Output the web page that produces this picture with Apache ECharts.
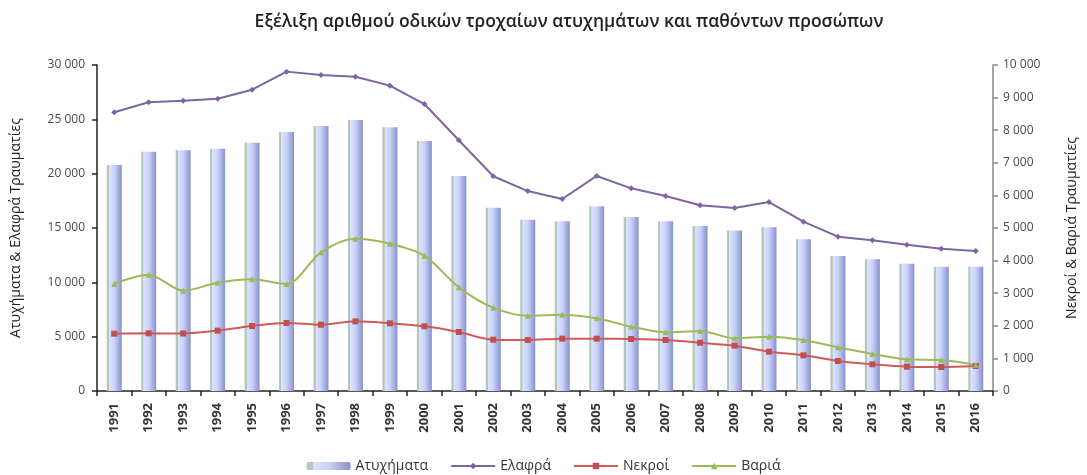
<!DOCTYPE html>
<html>
<head>
<meta charset="utf-8">
<script src="https://cdn.jsdelivr.net/npm/echarts@6/dist/echarts.min.js"></script>
<style>
  html, body { margin: 0; padding: 0; background: #fff; }
  #chart { width: 1087px; height: 475px; }
</style>
</head>
<body>
<div id="chart"></div>
<script>
// κατηγορίες (έτη)
var years = ["1991","1992","1993","1994","1995","1996","1997","1998","1999","2000","2001","2002","2003",
  "2004","2005","2006","2007","2008","2009","2010","2011","2012","2013","2014","2015","2016"];
// αριστερός άξονας
var atyximata = [20800,22020,22150,22300,22850,23830,24390,24940,24270,23010,19790,16870,15770,
  15610,17000,16010,15610,15180,14780,15060,13960,12420,12120,11710,11440,11440];
var elafra = [25650,26570,26720,26900,27730,29390,29080,28920,28100,26410,23070,19760,18400,
  17670,19790,18650,17940,17090,16840,17390,15580,14200,13870,13460,13100,12880];
// δεξιός άξονας
var nekroi = [1758,1770,1765,1850,1994,2086,2034,2137,2076,1984,1810,1574,1564,
  1605,1605,1595,1564,1482,1390,1206,1095,920,819,746,736,766];
var baria = [3291,3568,3077,3322,3425,3282,4254,4672,4519,4151,3180,2556,2310,
  2341,2229,1973,1800,1840,1616,1667,1564,1340,1135,972,951,798];

var fontFam = "'Open Sans', 'DejaVu Sans', sans-serif";
function fmt(v) {
  return String(v).replace(/\B(?=(\d{3})+(?!\d))/g, " ");
}

var chart = echarts.init(document.getElementById("chart"));
var barColor = new echarts.graphic.LinearGradient(0, 0, 1, 0, [
  { offset: 0, color: "#b4c6b6" },
  { offset: 0.13, color: "#b4c6b6" },
  { offset: 0.16, color: "#dbe3ff" },
  { offset: 0.5, color: "#c9d3fa" },
  { offset: 1, color: "#8990cb" },
]);

var option = {
  animation: false,
  title: {
    text: "Εξέλιξη αριθμού οδικών τροχαίων ατυχημάτων και παθόντων προσώπων",
    left: 564,
    textAlign: "center",
    top: 8,
    textStyle: { fontFamily: fontFam, fontSize: 17.5, fontWeight: 600, color: "#222" },
  },
  legend: {
    bottom: -3,
    left: "center",
    itemGap: 22,
    itemWidth: 44,
    itemHeight: 8,
    textStyle: { fontFamily: fontFam, fontSize: 14, color: "#333" },
    data: ["Ατυχήματα", "Ελαφρά", "Νεκροί", "Βαριά"],
  },
  grid: { left: 97, right: 91, top: 65, bottom: 84 },
  xAxis: {
    type: "category",
    data: years,
    boundaryGap: true,
    axisLine: { lineStyle: { color: "#222", width: 1.5 } },
    axisTick: { show: true, length: 5, lineStyle: { color: "#222", width: 1.5 } },
    axisLabel: {
      rotate: 90,
      interval: 0,
      margin: 12,
      fontFamily: fontFam,
      fontSize: 13,
      fontWeight: "bold",
      color: "#333",
    },
  },
  yAxis: [
    {
      type: "value",
      min: 0,
      max: 30000,
      interval: 5000,
      name: "Ατυχήματα & Ελαφρά Τραυματίες",
      nameLocation: "middle",
      nameRotate: 90,
      nameGap: 74,
      nameTextStyle: { fontFamily: fontFam, fontSize: 14, color: "#222" },
      splitLine: { show: false },
      axisLine: { show: true, lineStyle: { color: "#222", width: 1.5 } },
      axisTick: { show: true, length: 5, lineStyle: { color: "#222", width: 1.5 } },
      axisLabel: {
        fontFamily: fontFam, fontSize: 12, color: "#4a4a4a", margin: 12,
        formatter: fmt,
      },
    },
    {
      type: "value",
      min: 0,
      max: 10000,
      interval: 1000,
      name: "Νεκροί & Βαριά Τραυματίες",
      nameLocation: "middle",
      nameRotate: 90,
      nameGap: 72,
      nameTextStyle: { fontFamily: fontFam, fontSize: 14, color: "#222" },
      splitLine: { show: false },
      axisLine: { show: true, lineStyle: { color: "#888", width: 1.5 } },
      axisTick: { show: true, length: 5, lineStyle: { color: "#888", width: 1.5 } },
      axisLabel: {
        fontFamily: fontFam, fontSize: 12, color: "#4a4a4a", margin: 10,
        formatter: fmt,
      },
    },
  ],
  series: [
    {
      name: "Ατυχήματα",
      type: "bar",
      yAxisIndex: 0,
      barWidth: 15,
      itemStyle: { color: barColor },
      data: atyximata,
    },
    {
      name: "Ελαφρά",
      type: "line",
      yAxisIndex: 0,
      symbol: "diamond",
      symbolSize: 6,
      itemStyle: { color: "#7f63a8" },
      lineStyle: { color: "#8064a2", width: 2 },
      data: elafra,
    },
    {
      name: "Νεκροί",
      type: "line",
      yAxisIndex: 1,
      smooth: 0.3,
      symbol: "rect",
      symbolSize: 6,
      itemStyle: { color: "#c0504d" },
      lineStyle: { color: "#d05a57", width: 2 },
      data: nekroi,
    },
    {
      name: "Βαριά",
      type: "line",
      yAxisIndex: 1,
      smooth: 0.3,
      symbol: "triangle",
      symbolSize: 6,
      itemStyle: { color: "#9bbb59" },
      lineStyle: { color: "#9bbb59", width: 2 },
      data: baria,
    },
  ],
};
chart.setOption(option);
</script>
</body>
</html>
